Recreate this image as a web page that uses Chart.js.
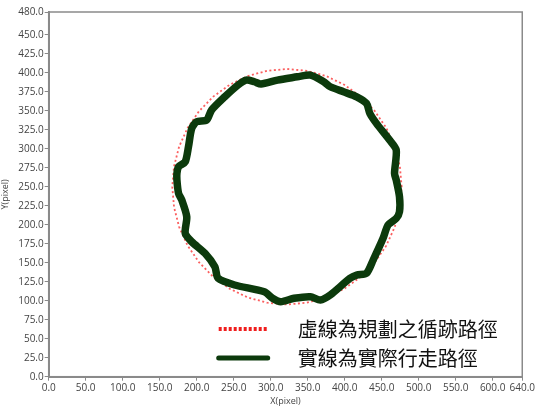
<!DOCTYPE html>
<html>
<head>
<meta charset="utf-8">
<script src="https://cdn.jsdelivr.net/npm/chart.js@4.4.1/dist/chart.umd.min.js"></script>
<style>
  html, body { margin: 0; padding: 0; background: #ffffff; }
  #wrap { width: 536px; height: 407px; }
</style>
</head>
<body>
<div id="wrap"><canvas id="c" width="536" height="407"></canvas></div>
<script>
// Axis tick positions (pixel units)
const xTicks = [0, 50, 100, 150, 200, 250, 300, 350, 400, 450, 500, 550, 600, 640];
const yTicks = [0, 25, 50, 75, 100, 125, 150, 175, 200, 225, 250, 275, 300, 325, 350, 375, 400, 425, 450, 480];

// Planned tracking path (circle), sampled every 10 degrees
const plannedX = [477, 474.6, 467.7, 456.2, 440.7, 421.6, 399.5, 375.0, 348.9, 322, 295.1, 269.0, 244.5, 222.4, 203.3, 187.8, 176.3, 169.4,
                  167, 169.4, 176.3, 187.8, 203.3, 222.4, 244.5, 269.0, 295.1, 322, 348.9, 375.0, 399.5, 421.6, 440.7, 456.2, 467.7, 474.6, 477];
const plannedY = [250, 276.9, 303.0, 327.5, 349.6, 368.7, 384.2, 395.7, 402.6, 405, 402.6, 395.7, 384.2, 368.7, 349.6, 327.5, 303.0, 276.9,
                  250, 223.1, 197.0, 172.5, 150.4, 131.3, 115.8, 104.3, 97.4, 95, 97.4, 104.3, 115.8, 131.3, 150.4, 172.5, 197.0, 223.1, 250];

// Actual walked path
const actualX = [336.0, 309.2, 286.9, 278.1, 266.8, 255.7, 238.0, 220.1, 213.4, 200.0, 193.3, 188.9, 184.5, 175.5, 173.3, 173.3, 175.5, 179.9,
                 186.6, 184.5, 193.3, 211.2, 224.6, 229.0, 251.3, 291.4, 302.5, 313.6, 331.6, 353.7, 367.1, 380.5, 407.2, 416.2, 429.5, 438.5,
                 451.9, 458.6, 469.7, 474.1, 474.1, 469.7, 467.4, 469.7, 460.7, 442.9, 434.0, 429.5, 416.2, 398.4, 380.5, 371.7, 353.7, 336.0];
const actualY = [394.7, 390.4, 385.1, 388.2, 390.4, 383.8, 368.4, 350.9, 337.8, 335.5, 326.8, 302.6, 282.9, 276.3, 267.6, 258.8, 241.3, 232.5,
                 210.5, 188.7, 177.6, 162.4, 144.7, 129.5, 120.7, 111.8, 103.2, 98.7, 103.2, 105.3, 100.9, 107.5, 129.5, 133.8, 136.1, 153.6,
                 182.1, 199.6, 208.4, 217.1, 236.8, 258.8, 267.6, 298.3, 311.4, 333.4, 346.6, 359.7, 368.4, 375.0, 381.6, 388.2, 397.0, 394.7];

const seriesLabels = ['虛線為規劃之循跡路徑', '實線為實際行走路徑'];

const toPoints = (xs, ys) => xs.map((x, i) => ({ x: x, y: ys[i] }));

const tickFont = { family: '"Open Sans", "DejaVu Sans", sans-serif', size: 10 };
const tickColor = '#444444';
const axisColor = '#8a8a8a';

// Frame around the plot area (top and right edges included)
const framePlugin = {
  id: 'frame',
  beforeDatasetsDraw(chart) {
    const a = chart.chartArea, ctx = chart.ctx;
    ctx.save();
    ctx.strokeStyle = axisColor;
    ctx.lineWidth = 1.5;
    ctx.strokeRect(a.left, a.top, a.right - a.left, a.bottom - a.top);
    ctx.restore();
  }
};

// Legend drawn inside the plot area, lower right
const insideLegend = {
  id: 'insideLegend',
  afterDatasetsDraw(chart) {
    const a = chart.chartArea, ctx = chart.ctx;
    const x0 = a.left + 170, x1 = a.left + 219, tx = a.left + 249;
    const rows = [a.top + 317, a.top + 346];
    ctx.save();
    chart.data.datasets.forEach((ds, i) => {
      const y = rows[i];
      ctx.beginPath();
      ctx.strokeStyle = ds.legendColor;
      ctx.lineWidth = ds.legendWidth;
      ctx.lineCap = ds.borderDash ? 'butt' : 'round';
      ctx.setLineDash(ds.borderDash ? [3, 2] : []);
      ctx.moveTo(x0, y);
      ctx.lineTo(x1, y);
      ctx.stroke();
      ctx.setLineDash([]);
      ctx.fillStyle = '#111111';
      ctx.font = '20px "Noto Sans CJK TC", sans-serif';
      ctx.textBaseline = 'middle';
      ctx.textAlign = 'left';
      ctx.fillText(ds.label, tx, y);
    });
    ctx.restore();
  }
};

new Chart(document.getElementById('c'), {
  type: 'scatter',
  data: {
    datasets: [
      {
        label: seriesLabels[0],
        data: toPoints(plannedX, plannedY),
        showLine: true,
        borderColor: 'rgba(250, 55, 55, 0.8)',
        legendColor: 'rgba(240, 30, 30, 1)',
        borderWidth: 1.8,
        legendWidth: 4,
        borderDash: [2, 2.5],
        pointRadius: 0,
        order: 1
      },
      {
        label: seriesLabels[1],
        data: toPoints(actualX, actualY),
        showLine: true,
        borderColor: '#0c3a0c',
        legendColor: '#0c3a0c',
        borderWidth: 7.5,
        legendWidth: 5,
        borderJoinStyle: 'round',
        borderCapStyle: 'round',
        tension: 0.25,
        pointRadius: 0,
        order: 0
      }
    ]
  },
  options: {
    responsive: false,
    animation: false,
    layout: { padding: { top: 12, right: 8.6, left: 0, bottom: 0 } },
    plugins: { legend: { display: false }, tooltip: { enabled: false } },
    scales: {
      x: {
        type: 'linear',
        min: 0,
        max: 640,
        afterBuildTicks: s => { s.ticks = xTicks.map(v => ({ value: v })); },
        afterFit: s => { s.height = 30.3; },
        ticks: { callback: v => Number(v).toFixed(1), autoSkip: false, maxRotation: 0, color: tickColor, font: tickFont, padding: 1 },
        grid: { drawOnChartArea: false, drawTicks: true, tickLength: 4, color: axisColor },
        border: { color: axisColor, width: 2 },
        title: { display: true, text: 'X(pixel)', color: tickColor, font: { family: tickFont.family, size: 9 }, padding: 0 }
      },
      y: {
        type: 'linear',
        min: 0,
        max: 480,
        afterBuildTicks: s => { s.ticks = yTicks.map(v => ({ value: v })); },
        afterFit: s => { s.width = 48.7; },
        ticks: { callback: v => Number(v).toFixed(1), autoSkip: false, color: tickColor, font: tickFont, padding: 1 },
        grid: { drawOnChartArea: false, drawTicks: true, tickLength: 4, color: axisColor },
        border: { color: axisColor, width: 2 },
        title: { display: true, text: 'Y(pixel)', color: tickColor, font: { family: tickFont.family, size: 9 }, padding: 0 }
      }
    }
  },
  plugins: [framePlugin, insideLegend]
});
</script>
</body>
</html>
